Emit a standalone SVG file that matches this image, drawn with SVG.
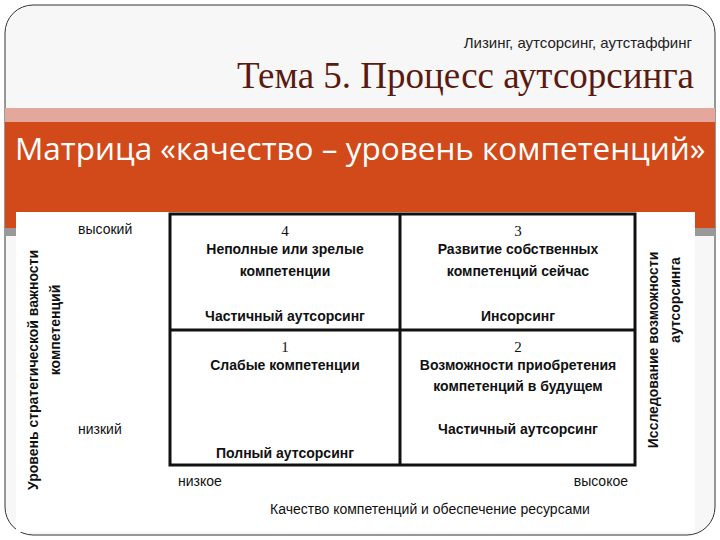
<svg xmlns="http://www.w3.org/2000/svg" width="720" height="540" viewBox="0 0 720 540">
<style>
.c{font-family:"Liberation Sans",Arial,sans-serif;font-size:14px;font-weight:bold;text-anchor:middle;fill:#111}
.n{font-family:"Liberation Serif",serif;font-size:15px;text-anchor:middle;fill:#111}
.a{font-family:"Liberation Sans",Arial,sans-serif;font-size:14px;fill:#111}
.l{stroke:#111;stroke-width:3;fill:none}
</style>
<rect x="0" y="0" width="720" height="540" fill="#fff"/>
<rect x="5" y="5" width="710" height="530" rx="28" fill="#f7f7f7" stroke="#333" stroke-width="1"/>
<rect x="5" y="108" width="710" height="14" fill="#e3a79c"/>
<rect x="5" y="122" width="710" height="90" fill="#d2491a"/>
<rect x="5" y="212" width="11" height="16" fill="#d2491a"/>
<rect x="695" y="212" width="20" height="16" fill="#d2491a"/>
<rect x="5" y="228" width="11" height="8" fill="#999"/>
<rect x="695" y="228" width="20" height="8" fill="#999"/>
<rect x="16" y="212" width="679" height="320" fill="#fff"/>
<text x="692" y="48" font-family="Liberation Sans,Arial,sans-serif" font-size="15" text-anchor="end" fill="#222">Лизинг, аутсорсинг, аутстаффинг</text>
<text x="694" y="88" font-family="Liberation Serif,serif" font-size="37" text-anchor="end" fill="#5a1a10">Тема 5. Процесс аутсорсинга</text>
<text x="15" y="160" font-family="Open Sans,Liberation Sans,sans-serif" font-size="31.5" fill="#fff">Матрица «качество – уровень компетенций»</text>
<g id="grid">
<rect class="l" x="170" y="214" width="465" height="251"/>
<line class="l" x1="400" y1="214" x2="400" y2="465"/>
<line class="l" x1="170" y1="330" x2="635" y2="330"/>
</g>
<g id="q4"><text class="n" x="285" y="236">4</text><text class="c" x="285" y="254">Неполные или зрелые</text><text class="c" x="285" y="276">компетенции</text><text class="c" x="285" y="321">Частичный аутсорсинг</text></g>
<g id="q3"><text class="n" x="518" y="236">3</text><text class="c" x="518" y="254">Развитие собственных</text><text class="c" x="518" y="276">компетенций сейчас</text><text class="c" x="518" y="321">Инсорсинг</text></g>
<g id="q1"><text class="n" x="285" y="352">1</text><text class="c" x="285" y="370">Слабые компетенции</text><text class="c" x="285" y="458">Полный аутсорсинг</text></g>
<g id="q2"><text class="n" x="518" y="352">2</text><text class="c" x="518" y="370">Возможности приобретения</text><text class="c" x="518" y="391">компетенций в будущем</text><text class="c" x="518" y="434">Частичный аутсорсинг</text></g>
<g id="axes">
<text class="a" x="78" y="234">высокий</text>
<text class="a" x="78" y="434">низкий</text>
<text class="a" x="178" y="486">низкое</text>
<text class="a" x="628" y="486" text-anchor="end">высокое</text>
<text class="a" x="430" y="514" text-anchor="middle">Качество компетенций и обеспечение ресурсами</text>
<text class="c" transform="translate(38,370) rotate(-90)">Уровень стратегической важности</text>
<text class="c" transform="translate(60,330) rotate(-90)">компетенций</text>
<text class="c" transform="translate(658,350) rotate(-90)">Исследование возможности</text>
<text class="c" transform="translate(680,300) rotate(-90)">аутсорсинга</text>
</g>
</svg>
